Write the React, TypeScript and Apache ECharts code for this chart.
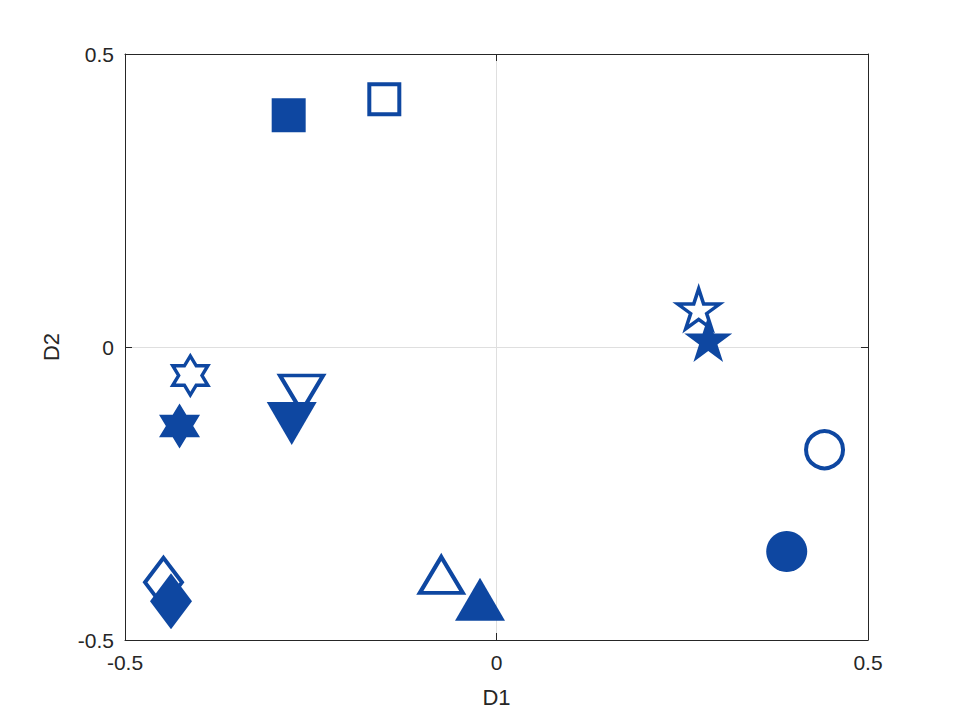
import React, { useEffect, useRef } from "react";
import * as echarts from "echarts";

// marker shapes, one pair (open / filled) per shape
const shapes = ["square", "hexagram", "triangleDown", "diamond", "triangleUp", "pentagram", "circle"];
const openD1 = [-0.151, -0.4121, -0.2624, -0.4482, -0.0743, 0.2721, 0.4415];
const openD2 = [0.4229, -0.0486, -0.0794, -0.4015, -0.389, 0.0652, -0.1754];
const filledD1 = [-0.2797, -0.4266, -0.2756, -0.4381, -0.0222, 0.285, 0.3906];
const filledD2 = [0.3954, -0.1348, -0.1305, -0.434, -0.4306, 0.0137, -0.349];
const axisTicks = [-0.5, 0, 0.5];

const COLOR = "#0E47A1";
const AXIS = "#262626";
const FONT = "Liberation Sans, Arial, Helvetica, sans-serif";

const HEX =
  "path://M86.6,0L115.5,50L173.2,50L144.3,100L173.2,150L115.5,150L86.6,200L57.7,150L0,150L28.9,100L0,50L57.7,50Z";
const STAR =
  "path://M95.1,0L117.55,69.1L190.2,69.1L131.4,111.8L153.9,180.9L95.1,138.2L36.3,180.9L58.8,111.8L0,69.1L72.65,69.1Z";

const symbolFor: Record<string, { symbol: string; rotate: number; filled: any; open: any }> = {
  square: { symbol: "rect", rotate: 0, filled: [34, 34], open: [30, 30] },
  hexagram: { symbol: HEX, rotate: 0, filled: [41, 45], open: [35, 39] },
  triangleDown: { symbol: "triangle", rotate: 180, filled: [50, 43], open: [43, 36] },
  diamond: { symbol: "diamond", rotate: 0, filled: [42, 56], open: [37, 49] },
  triangleUp: { symbol: "triangle", rotate: 0, filled: [50, 43], open: [43, 36] },
  pentagram: { symbol: STAR, rotate: 0, filled: [48, 46], open: [42, 40] },
  circle: { symbol: "circle", rotate: 0, filled: [41, 41], open: [37, 37] },
};

export default function App() {
  const ref = useRef<HTMLDivElement>(null);
  useEffect(() => {
    if (!ref.current) return;
    const chart = echarts.init(ref.current, null, { renderer: "svg" });
    const series: any[] = [];
    shapes.forEach((s, i) => {
      const m = symbolFor[s];
      series.push({
        type: "scatter",
        name: s + "-open",
        data: [[openD1[i], openD2[i]]],
        symbol: m.symbol,
        symbolSize: m.open,
        symbolRotate: m.rotate,
        symbolKeepAspect: false,
        itemStyle: { color: "#ffffff", borderColor: COLOR, borderWidth: s === "pentagram" || s === "hexagram" ? 3.5 : 4, opacity: 1 },
        z: 2,
      });
    });
    shapes.forEach((s, i) => {
      const m = symbolFor[s];
      series.push({
        type: "scatter",
        name: s + "-filled",
        data: [[filledD1[i], filledD2[i]]],
        symbol: m.symbol,
        symbolSize: m.filled,
        symbolRotate: m.rotate,
        symbolKeepAspect: false,
        itemStyle: { color: COLOR, opacity: 1 },
        z: 3,
      });
    });
    const labelStyle = { color: AXIS, fontSize: 21, fontFamily: FONT };
    chart.setOption({
      animation: false,
      backgroundColor: "#ffffff",
      grid: { left: 125, top: 54, right: 92, bottom: 80, containLabel: false },
      xAxis: [
        {
          type: "value",
          min: axisTicks[0],
          max: axisTicks[2],
          interval: 0.5,
          position: "bottom",
          name: "D1",
          nameLocation: "middle",
          nameGap: 46,
          nameTextStyle: { color: AXIS, fontSize: 22, fontFamily: FONT },
          axisLine: { show: true, onZero: false, lineStyle: { color: AXIS, width: 1 } },
          axisTick: { show: true, inside: true, length: 7, lineStyle: { color: AXIS } },
          axisLabel: { ...labelStyle, margin: 12 },
          splitLine: { show: true, lineStyle: { color: "#dfdfdf", width: 1 } },
        },
        {
          type: "value",
          min: axisTicks[0],
          max: axisTicks[2],
          interval: 0.5,
          position: "top",
          axisLine: { show: true, onZero: false, lineStyle: { color: AXIS, width: 1 } },
          axisTick: { show: true, inside: true, length: 7, lineStyle: { color: AXIS } },
          axisLabel: { show: false },
          splitLine: { show: false },
        },
      ],
      yAxis: [
        {
          type: "value",
          min: axisTicks[0],
          max: axisTicks[2],
          interval: 0.5,
          position: "left",
          name: "D2",
          nameLocation: "middle",
          nameGap: 63,
          nameTextStyle: { color: AXIS, fontSize: 22, fontFamily: FONT },
          axisLine: { show: true, onZero: false, lineStyle: { color: AXIS, width: 1 } },
          axisTick: { show: true, inside: true, length: 7, lineStyle: { color: AXIS } },
          axisLabel: { ...labelStyle, margin: 11 },
          splitLine: { show: true, lineStyle: { color: "#dfdfdf", width: 1 } },
        },
        {
          type: "value",
          min: axisTicks[0],
          max: axisTicks[2],
          interval: 0.5,
          position: "right",
          axisLine: { show: true, onZero: false, lineStyle: { color: AXIS, width: 1 } },
          axisTick: { show: true, inside: true, length: 7, lineStyle: { color: AXIS } },
          axisLabel: { show: false },
          splitLine: { show: false },
        },
      ],
      series,
    });
    return () => chart.dispose();
  }, []);
  return (
    <div
      ref={ref}
      style={{ position: "fixed", left: 0, top: 0, width: 960, height: 720, background: "#fff" }}
    />
  );
}
